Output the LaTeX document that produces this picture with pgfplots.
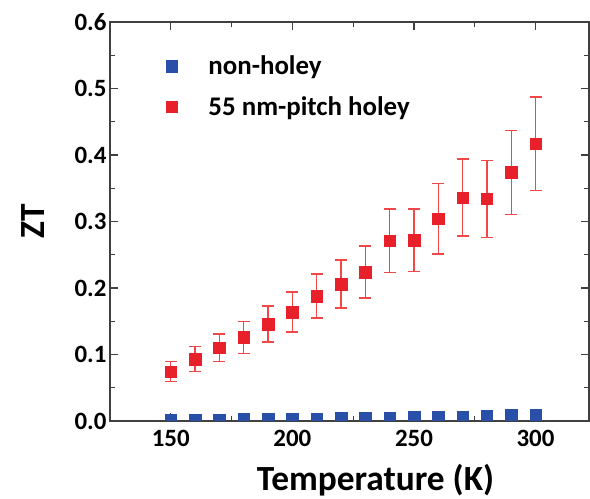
\documentclass[border=0pt]{standalone}
\usepackage{fontspec}
\setmainfont{Carlito}
\usepackage{pgfplots}
\pgfplotsset{compat=1.18}
\definecolor{myred}{HTML}{E8202A}
\definecolor{myblue}{HTML}{2A4FA8}
\definecolor{errred}{HTML}{F04848}
\definecolor{axgray}{HTML}{404040}
\begin{document}
\begin{tikzpicture}
\begin{axis}[
  name=ax,
  scale only axis,
  width=479bp, height=399bp,
  xmin=125, xmax=322, ymin=0, ymax=0.6,
  xtick={150,200,250,300},
  minor xtick={175,225,275},
  ytick={0,0.1,0.2,0.3,0.4,0.5,0.6},
  minor ytick={0.05,0.15,0.25,0.35,0.45,0.55},
  tick align=inside,
  major tick length=8bp,
  minor tick length=5bp,
  every tick/.style={axgray, line width=1.2bp},
  axis line style={axgray, line width=1.5bp},
  /pgf/number format/assume math mode=true,
  yticklabel style={/pgf/number format/fixed, /pgf/number format/fixed zerofill, /pgf/number format/precision=1, xshift=0bp},
  ticklabel style={font=\fontsize{25}{29}\selectfont\bfseries, black},
  xticklabel style={yshift=-6bp},
  xlabel={Temperature (K)},
  ylabel={ZT},
  label style={font=\fontsize{35.5}{40}\selectfont\bfseries},
  xlabel style={at={(axis description cs:0.5,0)}, anchor=north, yshift=-40bp, xshift=26bp},
  ylabel style={at={(axis description cs:0,0.5)}, anchor=south, yshift=62bp},
  clip marker paths=true,
  legend style={draw=none, fill=none, at={(axis description cs:0.11,0.925)}, anchor=north west,
    font=\fontsize{27}{31}\selectfont\bfseries, row sep=16bp,
    legend cell align=left},
  legend image code/.code={\draw[#1] plot coordinates {(0bp,0bp)};},
]
\addplot[only marks, mark=square*, mark size=5.8bp, color=myblue] coordinates {
(150,0.001) (160,0.0015) (170,0.002) (180,0.0025) (190,0.0025) (200,0.0035)
(210,0.0035) (220,0.004) (230,0.0045) (240,0.005) (250,0.0055) (260,0.006)
(270,0.0065) (280,0.0075) (290,0.0085) (300,0.0095)};
\addlegendentry{\hspace{29bp}non-holey}
\addplot[only marks, mark=square*, mark size=5.8bp, color=myred,
  error bars/.cd, y dir=both, y explicit,
  error bar style={errred, line width=1.3bp},
  error mark options={rotate=90, mark size=6bp, errred, line width=1.3bp}]
  coordinates {
(150,0.074) +- (0,0.015)
(160,0.093) +- (0,0.019)
(170,0.110) +- (0,0.021)
(180,0.126) +- (0,0.024)
(190,0.146) +- (0,0.027)
(200,0.164) +- (0,0.030)
(210,0.188) +- (0,0.033)
(220,0.206) +- (0,0.036)
(230,0.224) +- (0,0.039)
(240,0.271) +- (0,0.048)
(250,0.272) +- (0,0.047)
(260,0.304) +- (0,0.053)
(270,0.336) +- (0,0.058)
(280,0.334) +- (0,0.058)
(290,0.374) +- (0,0.063)
(300,0.417) +- (0,0.070)};
\addlegendentry{\hspace{29bp}55 nm-pitch holey}
\end{axis}
\pgfresetboundingbox
\path ([xshift=-110bp,yshift=-78bp]ax.south west) rectangle ([xshift=1bp,yshift=22bp]ax.north east);
\end{tikzpicture}
\end{document}
